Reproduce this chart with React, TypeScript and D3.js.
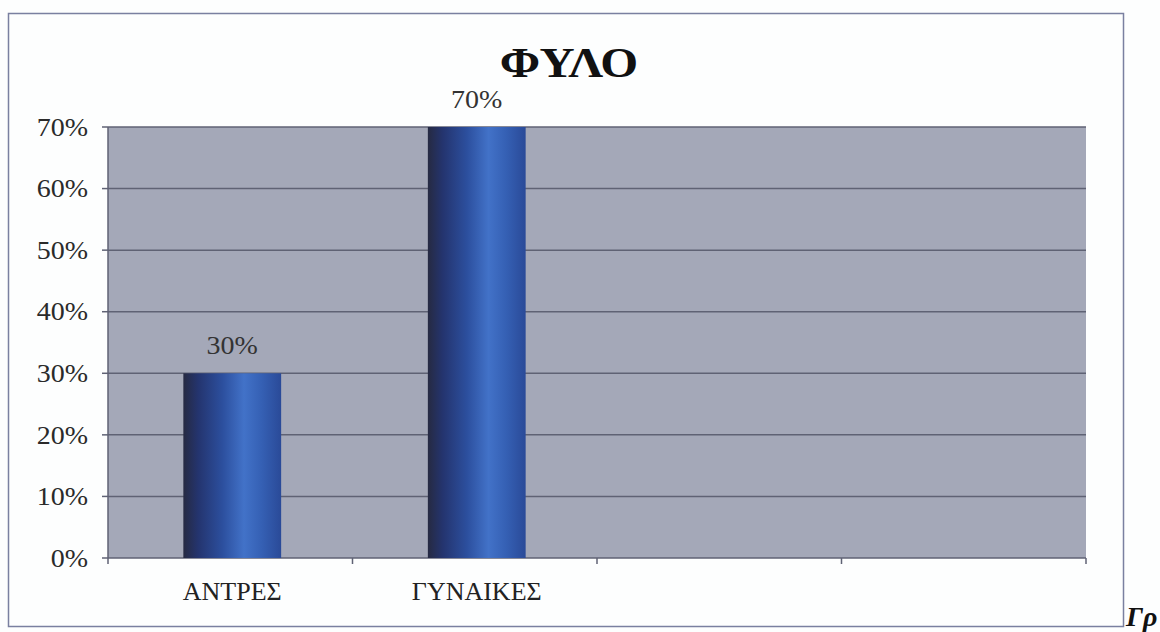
import React from "react";
import * as d3 from "d3";

const categories = ["ΑΝΤΡΕΣ", "ΓΥΝΑΙΚΕΣ", "", ""];
const values = [0.3, 0.7, null, null];
const yTicks = [0, 0.1, 0.2, 0.3, 0.4, 0.5, 0.6, 0.7];
const title = "ΦΥΛΟ";

export default function App() {
  const W = 1160, H = 632;
  const m = { left: 108, right: 1086, top: 127, bottom: 558 };
  const x = d3.scaleBand<string>().domain(categories.map((c, i) => String(i))).range([m.left, m.right]).paddingInner(0).paddingOuter(0);
  const y = d3.scaleLinear().domain([0, 0.7]).range([m.bottom, m.top]);
  const fmt = d3.format(".0%");
  const bw = x.bandwidth() * 0.4;
  const serif = "'Liberation Serif', 'DejaVu Serif', serif";
  const cx = (i: number) => (x(String(i)) as number) + x.bandwidth() / 2 + 2;
  return (
    <svg width={W} height={H} style={{ position: "absolute", left: 0, top: 0, background: "#fdfefe" }}>
      <defs>
        <linearGradient id="barg" x1="0" x2="1" y1="0" y2="0">
          <stop offset="0" stopColor="#262a42" />
          <stop offset="0.15" stopColor="#24346e" />
          <stop offset="0.4" stopColor="#2c4f9e" />
          <stop offset="0.62" stopColor="#4272c8" />
          <stop offset="0.8" stopColor="#3560b4" />
          <stop offset="1" stopColor="#2a4a98" />
        </linearGradient>
      </defs>
      <rect x={8.5} y={13.5} width={1115} height={613} fill="#fdfefe" stroke="#7a80a0" strokeWidth={1.5} />
      <rect x={m.left} y={m.top} width={m.right - m.left} height={m.bottom - m.top} fill="#a4a8b8" />
      {yTicks.map((t) => (
        <g key={t}>
          <line x1={m.left} x2={m.right} y1={y(t)} y2={y(t)} stroke="#5f6274" strokeWidth={1.5} />
          <line x1={m.left - 6} x2={m.left} y1={y(t)} y2={y(t)} stroke="#5f6274" strokeWidth={1.5} />
          <g transform={`translate(${m.left - 20},${y(t)}) scale(1.12,1)`}>
            <text x={0} y={0} dy="0.35em" textAnchor="end" fontFamily={serif} fontSize={25} fill="#2a2a2a">{fmt(t)}</text>
          </g>
        </g>
      ))}
      <line x1={m.left} x2={m.left} y1={m.top} y2={m.bottom + 6} stroke="#5f6274" strokeWidth={1.5} />
      {categories.map((c, i) => (
        <g key={i}>
          <line x1={(x(String(i)) as number) + x.bandwidth()} x2={(x(String(i)) as number) + x.bandwidth()} y1={m.bottom} y2={m.bottom + 6} stroke="#5f6274" strokeWidth={1.5} />
          <text x={cx(i)} y={600} textAnchor="middle" fontFamily={serif} fontSize={26} fill="#222">{c}</text>
        </g>
      ))}
      {values.map((v, i) =>
        v == null ? null : (
          <g key={i}>
            <rect x={cx(i) - bw / 2} y={y(v)} width={bw} height={y(0) - y(v)} fill="url(#barg)" />
            <g transform={`translate(${cx(i)},${y(v) - 19}) scale(1.12,1)`}>
              <text x={0} y={0} textAnchor="middle" fontFamily={serif} fontSize={25} fill="#333">{fmt(v)}</text>
            </g>
          </g>
        )
      )}
      <g transform="translate(569,77) scale(1.16,1)">
        <text x={0} y={0} textAnchor="middle" fontFamily={serif} fontWeight="bold" fontSize={42} fill="#111">{title}</text>
      </g>
      <text x={1126} y={626} fontFamily={serif} fontWeight="bold" fontStyle="italic" fontSize={28} fill="#111">Γρ</text>
    </svg>
  );
}
